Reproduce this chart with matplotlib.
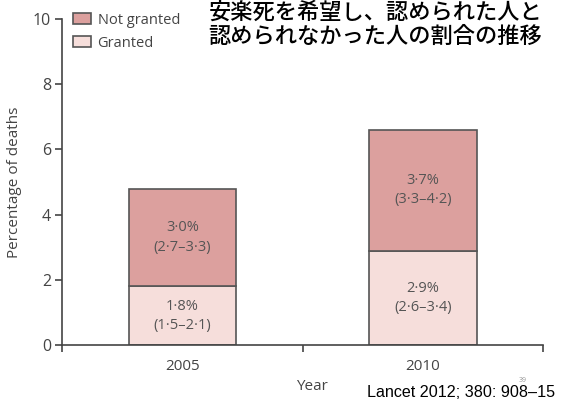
import matplotlib.pyplot as plt
import numpy as np

years = ['2005', '2010']
granted = [1.8, 2.9]
not_granted = [3.0, 3.7]
granted_lbl = ['1·8%\n(1·5–2·1)', '2·9%\n(2·6–3·4)']
not_granted_lbl = ['3·0%\n(2·7–3·3)', '3·7%\n(3·3–4·2)']

plt.rcParams['font.family'] = ['Open Sans', 'DejaVu Sans']

fig = plt.figure(figsize=(5.61, 4.05), dpi=100)
ax = fig.add_axes([0.1105, 0.148, 0.858, 0.805])

x = np.arange(len(years)) + 0.5
edge = '#555555'
c_not = '#dca09e'
c_gr = '#f6dedb'

ax.bar(x, granted, width=0.445, color=c_gr, edgecolor=edge, linewidth=1.2, label='Granted')
ax.bar(x, not_granted, width=0.445, bottom=granted, color=c_not, edgecolor=edge,
       linewidth=1.2, label='Not granted')

for xi, g, n, gl, nl in zip(x, granted, not_granted, granted_lbl, not_granted_lbl):
    ax.text(xi, g / 2, gl, ha='center', va='center', fontsize=10.5, color='#555555',
            linespacing=1.4)
    ax.text(xi, g + n / 2, nl, ha='center', va='center', fontsize=10.5, color='#555555',
            linespacing=1.4)

ax.set_xlim(0, 2)
ax.set_ylim(0, 10)
ax.set_xticks([0, 1, 2])
ax.set_xticklabels([])
ax.set_yticks([0, 2, 4, 6, 8, 10])
for xi, yr in zip(x, years):
    ax.text(xi, -0.42, yr, ha='center', va='top', fontsize=11, color='#444444')
ax.text(1.04, -1.05, 'Year', ha='center', va='top', fontsize=11, color='#444444')

for s in ['top', 'right']:
    ax.spines[s].set_visible(False)
for s in ['left', 'bottom']:
    ax.spines[s].set_color('#444444')
    ax.spines[s].set_linewidth(1.2)
ax.tick_params(axis='y', direction='out', length=5, width=1.2, color='#444444',
               labelsize=11.5, labelcolor='#444444', pad=3)
ax.tick_params(axis='x', direction='out', length=5, width=1.2, color='#444444')
ax.set_ylabel('Percentage of deaths', fontsize=11, color='#444444', labelpad=8)

h, l = ax.get_legend_handles_labels()
ax.legend(h[::-1], l[::-1], loc='upper left', bbox_to_anchor=(-0.005, 1.06), frameon=False,
          fontsize=10.5, handlelength=1.25, handleheight=0.85, handletextpad=0.45,
          labelspacing=0.55, labelcolor='#444444')

fig.text(0.372, 0.997, '安楽死を希望し、認められた人と\n認められなかった人の割合の推移',
         ha='left', va='top', fontsize=16, family=['Noto Sans CJK JP'], weight='medium',
         linespacing=1.05)
fig.text(0.654, 0.032, 'Lancet 2012; 380: 908–15', ha='left', va='center', fontsize=11.6,
         family=['Liberation Sans'])
fig.text(0.932, 0.06, '39', ha='center', va='center', fontsize=5, color='#999999')

fig.savefig('out.png', dpi=100)
